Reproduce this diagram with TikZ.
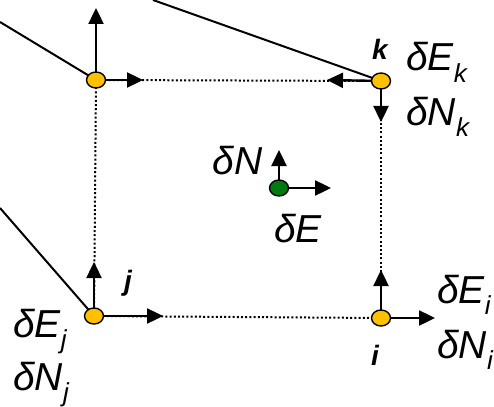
\documentclass[tikz,border=0pt]{standalone}
\usepackage{fontspec}
\setmainfont{Liberation Sans}
\usetikzlibrary{arrows.meta,shapes.geometric,positioning,calc}
\definecolor{dotyellow}{HTML}{FFC000}
\definecolor{dotgreen}{HTML}{007A10}
\newcommand{\dlab}[2]{\fontsize{39}{39}\selectfont\itshape δ#1\raisebox{-0.3em}{\fontsize{26}{26}\selectfont #2}}
\begin{document}
\begin{tikzpicture}[x=1pt,y=-1pt,
    vec/.style={line width=2.4pt,-{Triangle[length=16pt,width=15pt]}},
    grid/.style={line width=2pt,dash pattern=on 2pt off 2.2pt},
    lead/.style={line width=2pt},
    pt/.style={ellipse,draw,line width=1.4pt,fill=dotyellow,minimum width=19pt,minimum height=16pt,inner sep=0pt},
    idx/.style={font=\fontsize{28}{28}\selectfont\bfseries\itshape,inner sep=0pt,anchor=base},
    lab/.style={inner sep=0pt,anchor=base west}]
  \useasboundingbox (0,0) rectangle (494,406);
  % corner points of the cell
  \coordinate (l) at (96,80);
  \coordinate (k) at (381,81);
  \coordinate (j) at (94,316);
  \coordinate (i) at (381,318);
  \coordinate (c) at (279,188);
  % free ends of the lead lines
  \coordinate (la) at (0,22);
  \coordinate (ka) at (153,0);
  \coordinate (ja) at (0,208);
  \draw[lead] (la) -- (l);
  \draw[lead] (ka) -- (k);
  \draw[lead] (ja) -- (j);
  % dotted cell edges
  \draw[grid] (l) -- (k);
  \draw[grid] (k) -- (i);
  \draw[grid] (j) -- (i);
  \draw[grid] (j) -- (l);
  % vector tips
  \coordinate (lN) at (96,8);
  \coordinate (lE) at (143,80);
  \coordinate (kE) at (327,80);
  \coordinate (kN) at (381,122);
  \coordinate (iN) at (381,270);
  \coordinate (iE) at (435,318);
  \coordinate (jN) at (94,262);
  \coordinate (jE) at (163,316);
  \coordinate (cN) at (279,150);
  \coordinate (cE) at (331,188);
  \draw[vec] (l) -- (lN);
  \draw[vec] (l) -- (lE);
  \draw[vec] (k) -- (kE);
  \draw[vec] (k) -- (kN);
  \draw[vec] (i) -- (iN);
  \draw[vec] (i) -- (iE);
  \draw[vec] (j) -- (jN);
  \draw[vec] (j) -- (jE);
  \draw[vec] (c) -- (cN);
  \draw[vec] (c) -- (cE);
  % points
  \node[pt] (nl) at (l) {};
  \node[pt] (nk) at (k) {};
  \node[pt] (nj) at (j) {};
  \node[pt] (ni) at (i) {};
  \node[pt,fill=dotgreen] (nc) at (c) {};
  % labels
  \node[idx] (tk) at (380,60) {k};
  \node[lab] (tEk) at (406,71) {\dlab{E}{k}};
  \node[lab] (tNk) at (406,125) {\dlab{N}{k}};
  \node[inner sep=0pt,anchor=base east] (tN) at (263,174) {\dlab{N}{}};
  \node[lab] (tE) at (274,242) {\dlab{E}{}};
  \node[idx] (tj) at (128,290) {j};
  \node[lab] (tEj) at (13,337) {\dlab{E}{j}};
  \node[lab] (tNj) at (13,390) {\dlab{N}{j}};
  \node[idx] (ti) at (375,365) {i};
  \node[lab] (tEi) at (437,303) {\dlab{E}{i}};
  \node[lab] (tNi) at (437,358) {\dlab{N}{i}};
\end{tikzpicture}
\end{document}
